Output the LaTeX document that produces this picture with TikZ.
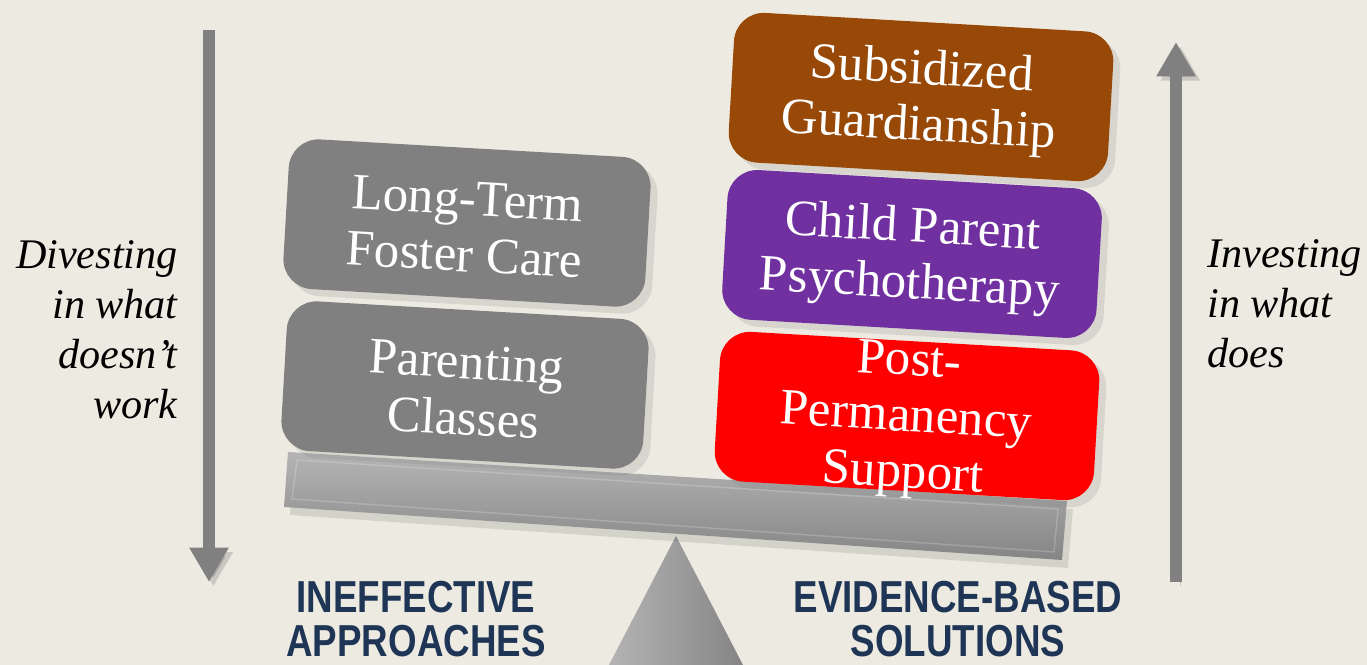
\documentclass[tikz,border=0pt]{standalone}
\usepackage{fontspec}
\setmainfont{Liberation Serif}
\newfontfamily\capsfont[FakeStretch=0.82]{Liberation Sans}
\usetikzlibrary{arrows.meta,shadows}
\definecolor{bgcream}{HTML}{EDEBE1}
\definecolor{boxgray}{HTML}{808080}
\definecolor{boxbrown}{HTML}{984807}
\definecolor{boxpurple}{HTML}{7030A0}
\definecolor{boxred}{HTML}{FF0000}
\definecolor{navy}{HTML}{1F3556}
\definecolor{beamlight}{HTML}{B4B4B4}
\definecolor{beamdark}{HTML}{858585}
\tikzset{
  box/.style = {rectangle, rounded corners=17pt, inner sep=0pt, rotate=-3.3,
    minimum width=7.6cm, minimum height=3cm,
    drop shadow={opacity=0.2, shadow xshift=4pt, shadow yshift=-4pt}},% bloc de base
  box_gray/.style = {box, fill=boxgray, minimum width=7.25cm},% approche inefficace
  box_brown/.style = {box, fill=boxbrown},
  box_purple/.style = {box, fill=boxpurple, minimum width=7.5cm},
  box_red/.style = {box, fill=boxred},
  box_txt/.style = {align=center, inner sep=0pt, text=white, rotate=-3.3,
    font=\fontsize{29}{32}\selectfont},% texte des blocs
  side_lbl/.style = {inner sep=0pt, font=\itshape\fontsize{24}{28.5}\selectfont},
  bottom_lbl/.style = {align=center, inner sep=0pt, text=navy,
    font=\capsfont\bfseries\fontsize{25.5}{25.5}\selectfont},
  big_arrow/.style = {draw=boxgray, line width=6.8pt,
    -{Triangle[width=21pt,length=19.5pt]},
    preaction={draw=black, opacity=0.15, transform canvas={xshift=2.5pt,yshift=-2.5pt}}}
}

\begin{document}
\begin{tikzpicture}[x=0.02cm,y=-0.02cm]
\fill[bgcream] (0,0) rectangle (1367,665);
\useasboundingbox (0,0) rectangle (1367,665);

% fleches laterales
\coordinate (dv_top) at (209,30);
\coordinate (dv_bot) at (209,582);
\coordinate (iv_bot) at (1176,582);
\coordinate (iv_top) at (1176,42);
\draw[big_arrow] (dv_top) -- (dv_bot);
\draw[big_arrow] (iv_bot) -- (iv_top);

% pivot et flean
\coordinate (tri_top) at (676,536);
\coordinate (tri_l) at (609,665);
\coordinate (tri_r) at (743,665);
\shade[left color=beamlight, right color=beamdark] (tri_top) -- (tri_r) -- (tri_l) -- cycle;
\coordinate (bm_tl) at (288,452);
\coordinate (bm_tr) at (1067,501);
\coordinate (bm_br) at (1062,560);
\coordinate (bm_bl) at (284,507);
\fill[black, opacity=0.1] ([shift={(6,8)}]bm_tl) -- ([shift={(6,8)}]bm_tr)
  -- ([shift={(6,8)}]bm_br) -- ([shift={(6,8)}]bm_bl) -- cycle;
\shade[top color=beamlight, bottom color=beamdark] (bm_tl) -- (bm_tr) -- (bm_br) -- (bm_bl) -- cycle;
\draw[white, opacity=0.2, line width=0.8pt] ([shift={(9,8)}]bm_tl) -- ([shift={(-9,8)}]bm_tr)
  -- ([shift={(-8,-8)}]bm_br) -- ([shift={(8,-8)}]bm_bl) -- cycle;

% blocs de gauche
\node[box_gray] (parent) at (465,385) {};
\node[box_gray] (ltfc) at (467,223) {};
\node[box_txt] (parent_t) at (465,390) {Parenting\\Classes};
\node[box_txt] (ltfc_t) at (466,227) {Long-Term\\Foster Care};

% blocs de droite
\node[box_purple] (cpp) at (912,254) {};
\node[box_red] (postperm) at (907,416) {};
\node[box_brown] (subsid) at (921,97) {};
\node[box_txt] (cpp_t) at (911,258) {Child Parent\\Psychotherapy};
\node[box_txt] (postperm_t) at (906,420) {Post-\\Permanency\\Support};
\node[box_txt] (subsid_t) at (920,100) {Subsidized\\Guardianship};

% legendes
\node[side_lbl, align=right, anchor=east] (divest) at (178,330) {Divesting\\in what\\doesn’t\\work};
\node[side_lbl, align=left, anchor=west] (invest) at (1207,304) {Investing\\in what\\does};
\node[bottom_lbl] (ineff) at (416,619) {INEFFECTIVE\\APPROACHES};
\node[bottom_lbl] (evid) at (958,619) {EVIDENCE-BASED\\SOLUTIONS};
\end{tikzpicture}
\end{document}
